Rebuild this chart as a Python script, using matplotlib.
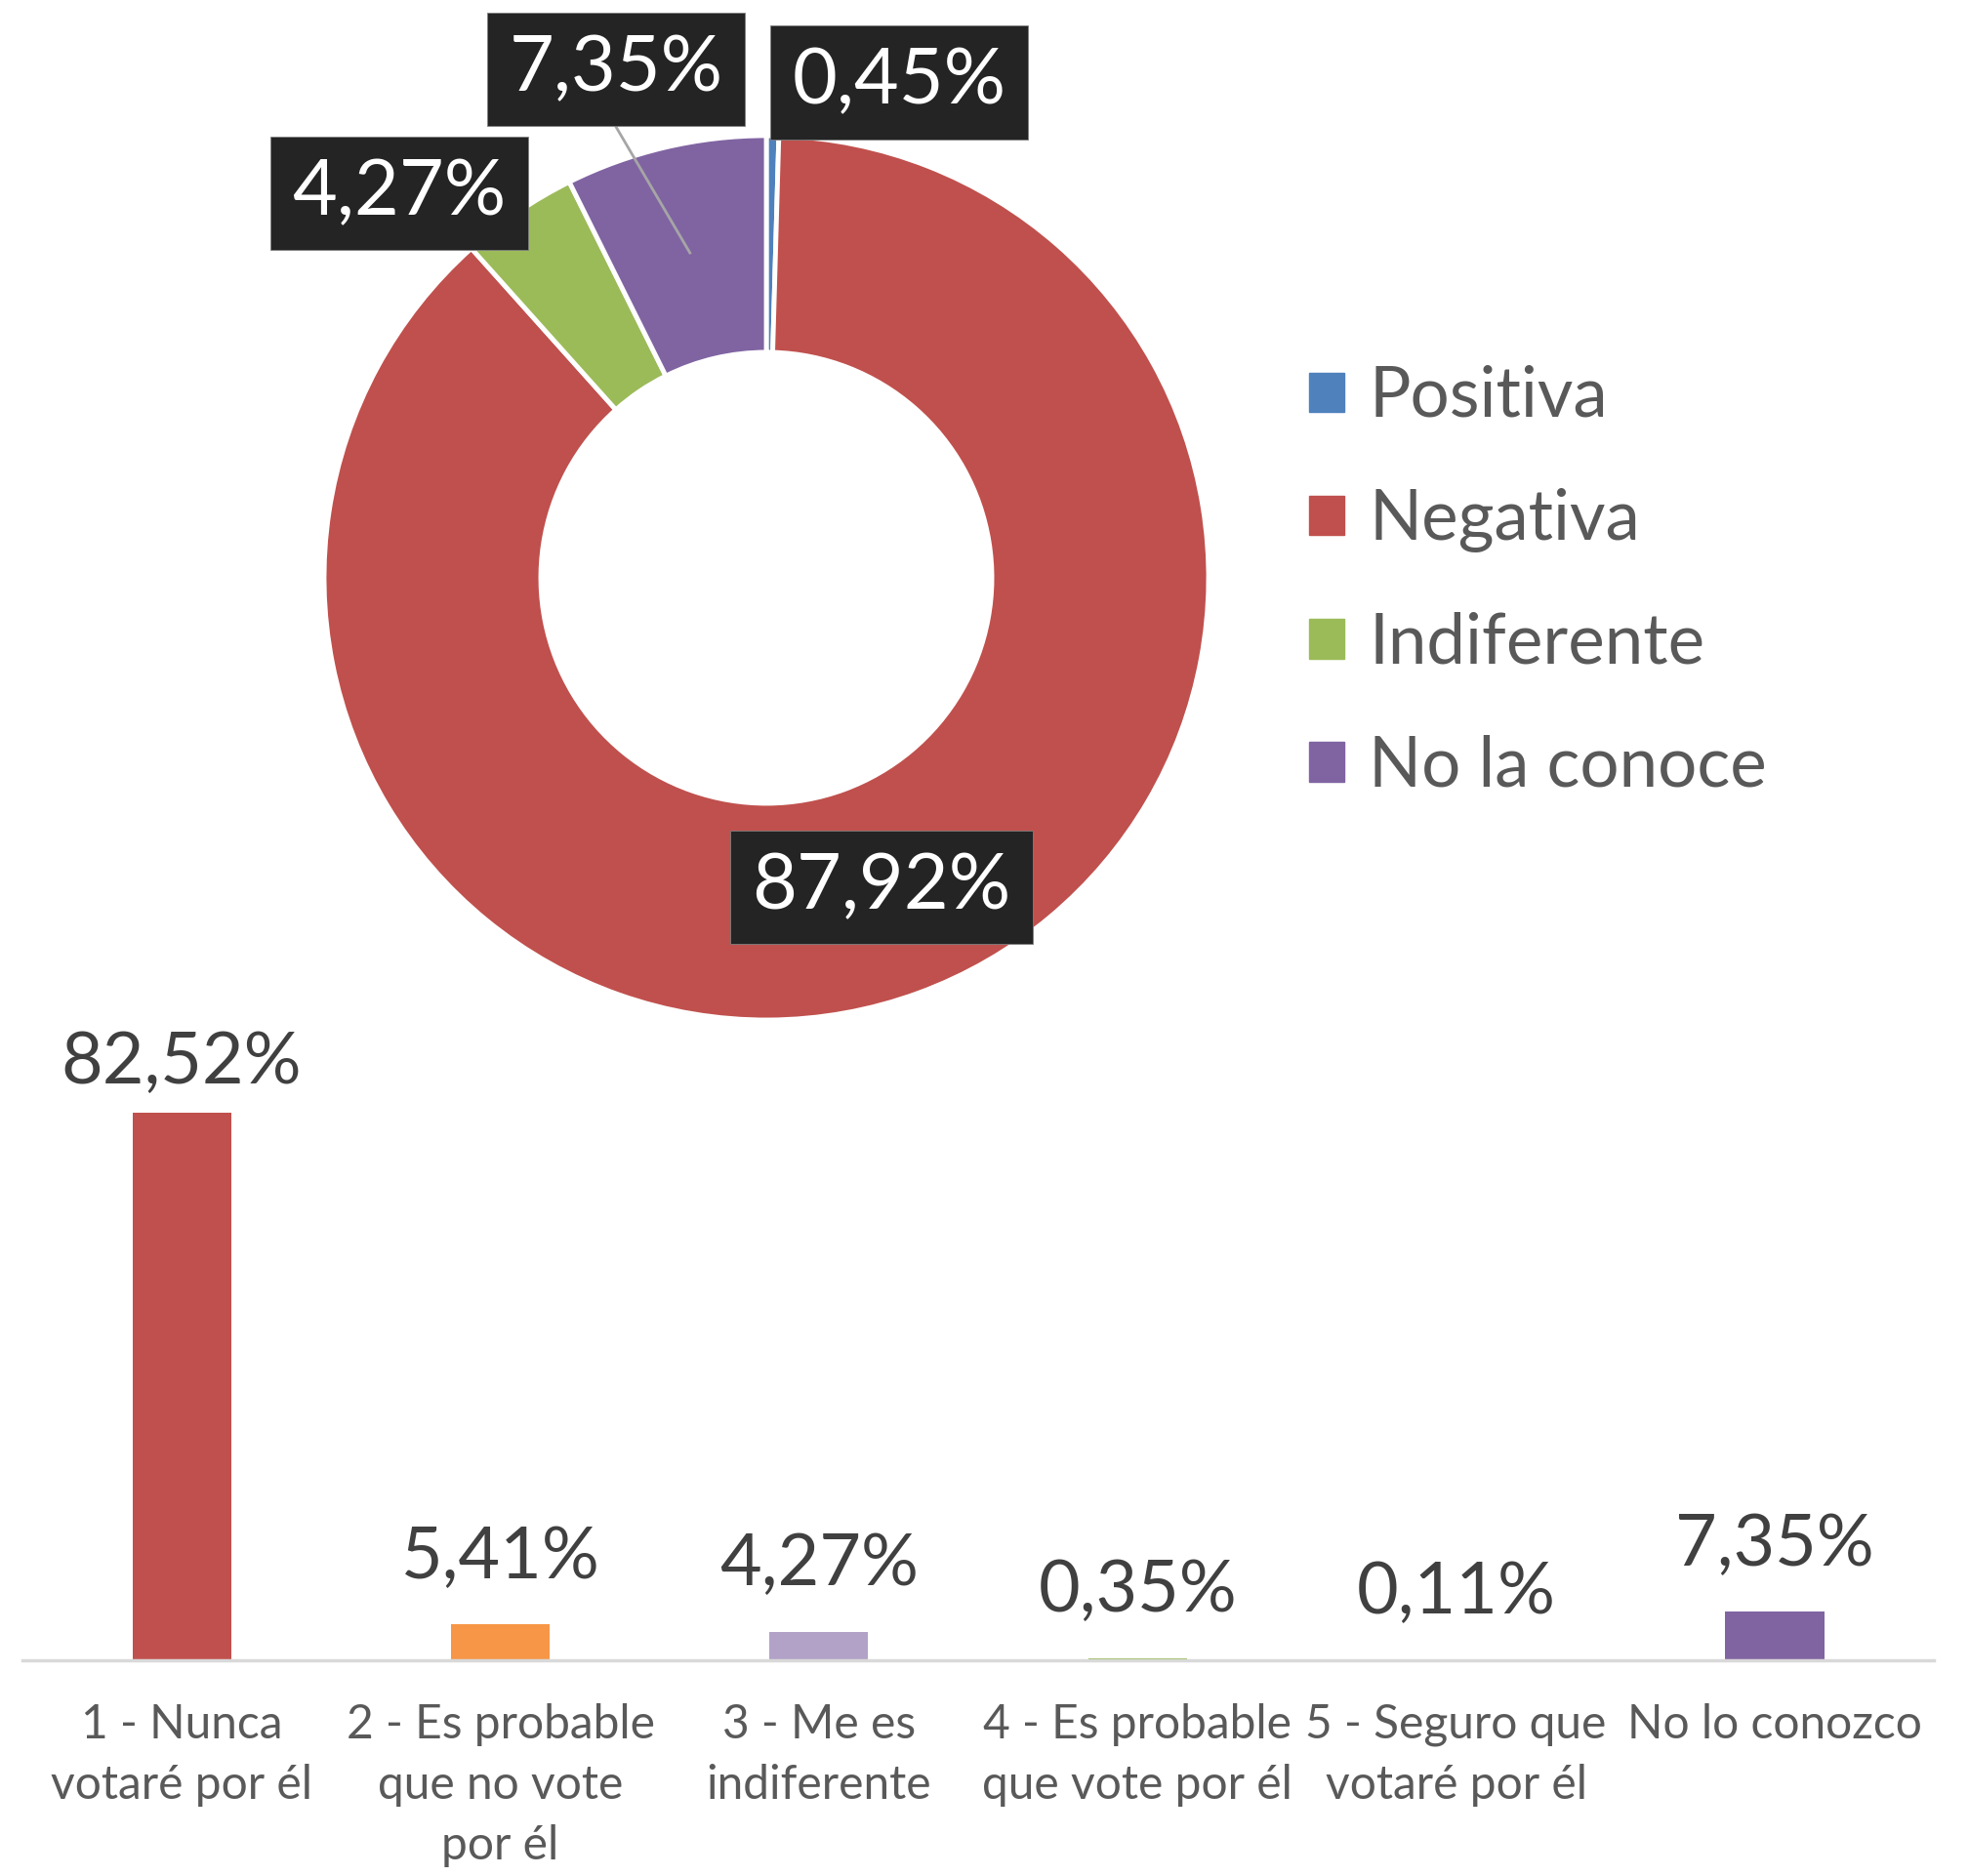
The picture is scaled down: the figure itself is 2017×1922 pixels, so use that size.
import matplotlib
matplotlib.use('Agg')
import matplotlib.pyplot as plt
from matplotlib.patches import Patch
import numpy as np

plt.rcParams['font.family'] = ['Lato', 'DejaVu Sans']

# donut data
pie_labels = ['Positiva', 'Negativa', 'Indiferente', 'No la conoce']
pie_values = [0.45, 87.92, 4.27, 7.35]
pie_text = ['0,45%', '87,92%', '4,27%', '7,35%']
pie_colors = ['#4F81BD', '#C0504D', '#9BBB59', '#8064A2']

# bar data
bar_cats = ['1 - Nunca\nvotaré por él', '2 - Es probable\nque no vote\npor él',
            '3 - Me es\nindiferente', '4 - Es probable\nque vote por él',
            '5 - Seguro que\nvotaré por él', 'No lo conozco']
bar_values = [82.52, 5.41, 4.27, 0.35, 0.11, 7.35]
bar_text = ['82,52%', '5,41%', '4,27%', '0,35%', '0,11%', '7,35%']
bar_colors = ['#C0504D', '#F79646', '#B3A2C7', '#9BBB59', '#4F81BD', '#8064A2']

# label positions for the donut (data units)
pie_label_xy = [(0.30, 1.12), (0.26, -0.70), (-0.83, 0.87), (-0.34, 1.15)]

fig = plt.figure(figsize=(20.17, 19.22), dpi=100)

## donut
ax1 = fig.add_axes([0.1646, 0.4563, 0.4492, 0.4714])
wedges, _ = ax1.pie(pie_values, colors=pie_colors, startangle=90, counterclock=False,
                    radius=1, wedgeprops=dict(width=0.49, edgecolor='white', linewidth=3.5))
ax1.set_xlim(-1, 1)
ax1.set_ylim(-1, 1)
ax1.set_aspect('equal')
ax1.axis('off')

for (x, y), t in zip(pie_label_xy, pie_text):
    ax1.text(x, y, t, ha='center', va='center', color='white', fontsize=57,
             bbox=dict(boxstyle='square,pad=0.28', facecolor='#242424',
                       edgecolor='#808080', linewidth=0.6), zorder=5)

# leader line for the purple slice
w = wedges[3]
mid = np.deg2rad((w.theta1 + w.theta2) / 2)
ax1.plot([-0.34, 0.755 * np.cos(mid)], [1.02, 0.755 * np.sin(mid)],
         color='#A6A6A6', linewidth=2, zorder=4, clip_on=False)

handles = [Patch(facecolor=c, edgecolor=c) for c in pie_colors]
leg = fig.legend(handles, pie_labels, loc='center left', bbox_to_anchor=(0.665, 0.690),
                 frameon=False, fontsize=51, handlelength=0.5, handleheight=0.5,
                 handletextpad=0.36, labelspacing=0.86, borderpad=0, borderaxespad=0)
for t in leg.get_texts():
    t.set_color('#595959')

## bars
ax2 = fig.add_axes([0.0114, 0.115, 0.9708, 0.336])
x = np.arange(len(bar_cats))
bars = ax2.bar(x, bar_values, width=0.31, color=bar_colors)
ax2.set_xlim(-0.5, len(bar_cats) - 0.5)
ax2.set_ylim(0, 95)
for s in ['top', 'right', 'left']:
    ax2.spines[s].set_visible(False)
ax2.spines['bottom'].set_color('#D9D9D9')
ax2.spines['bottom'].set_linewidth(2.5)
ax2.set_yticks([])
ax2.set_xticks(x)
ax2.set_xticklabels(bar_cats, fontsize=34.5, color='#595959', linespacing=1.5)
ax2.tick_params(axis='x', length=0, pad=32)

# value labels, kept inside the plot area like excel does
for b, t in zip(bars, bar_text):
    ypos = min(b.get_height() + 10, 90)
    ax2.text(b.get_x() + b.get_width() / 2, ypos, t, ha='center', va='center',
             fontsize=53, color='#404040')

fig.savefig('out.png', dpi=100)
